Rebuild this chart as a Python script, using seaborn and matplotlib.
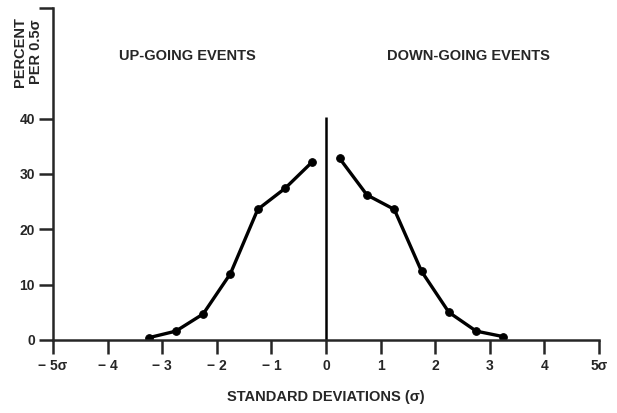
import matplotlib
matplotlib.use("Agg")
import matplotlib.pyplot as plt
import seaborn as sns
import pandas as pd

# Data
up_x = [-3.25, -2.75, -2.25, -1.75, -1.25, -0.75, -0.25]
up_pct = [0.4, 1.6, 4.7, 12.0, 23.6, 27.4, 32.2]
down_x = [0.25, 0.75, 1.25, 1.75, 2.25, 2.75, 3.25]
down_pct = [32.8, 26.2, 23.6, 12.4, 5.0, 1.6, 0.6]
x_ticks = [-5, -4, -3, -2, -1, 0, 1, 2, 3, 4, 5]
x_tick_labels = ["\u2212 5\u03c3", "\u2212 4", "\u2212 3", "\u2212 2", "\u2212 1", "0", "1", "2", "3", "4", "5\u03c3"]
y_ticks = [0, 10, 20, 30, 40, 60]
y_tick_labels = ["0", "10", "20", "30", "40", ""]

sns.set_style("ticks")
plt.rcParams['font.family'] = ['Liberation Sans', 'DejaVu Sans']
plt.rcParams['font.weight'] = 'bold'

fig = plt.figure(figsize=(6.17, 4.13), dpi=100)
ax = fig.add_axes([0.0859, 0.1768, 0.885, 0.804])

df_up = pd.DataFrame({"x": up_x, "y": up_pct})
df_down = pd.DataFrame({"x": down_x, "y": down_pct})
for d in (df_up, df_down):
    sns.lineplot(data=d, x="x", y="y", ax=ax, color="black", linewidth=2.4,
                 marker="o", markersize=5.5, markeredgecolor="black", sort=False)

ax.vlines(0, 0, 40.3, color="black", linewidth=1.8)

ax.set_xlim(-5, 5)
ax.set_ylim(0, 60)
ax.set_xticks(x_ticks)
ax.set_xticklabels(x_tick_labels, fontsize=10, fontweight="heavy")
ax.set_yticks(y_ticks)
ax.set_yticklabels(y_tick_labels, fontsize=10, fontweight="heavy")
ax.tick_params(axis="x", direction="out", length=10, width=1.8, pad=4)
ax.tick_params(axis="y", direction="out", length=10, width=1.8, pad=3)
sns.despine(ax=ax)
for s in ("left", "bottom"):
    ax.spines[s].set_linewidth(1.8)
ax.set_xlabel("STANDARD DEVIATIONS (\u03c3)", fontsize=10.5, fontweight="heavy", labelpad=12)
ax.set_ylabel("")

ax.text(-2.53, 51.4, "UP-GOING EVENTS", ha="center", va="center", fontsize=10.5, fontweight="heavy")
ax.text(2.6, 51.4, "DOWN-GOING EVENTS", ha="center", va="center", fontsize=10.5, fontweight="heavy")

fig.text(0.045, 0.875, "PERCENT\nPER 0.5\u03c3", rotation=90, ha="center", va="center",
         fontsize=10.5, fontweight="heavy", linespacing=1.15)

fig.savefig("out.png", dpi=100)
